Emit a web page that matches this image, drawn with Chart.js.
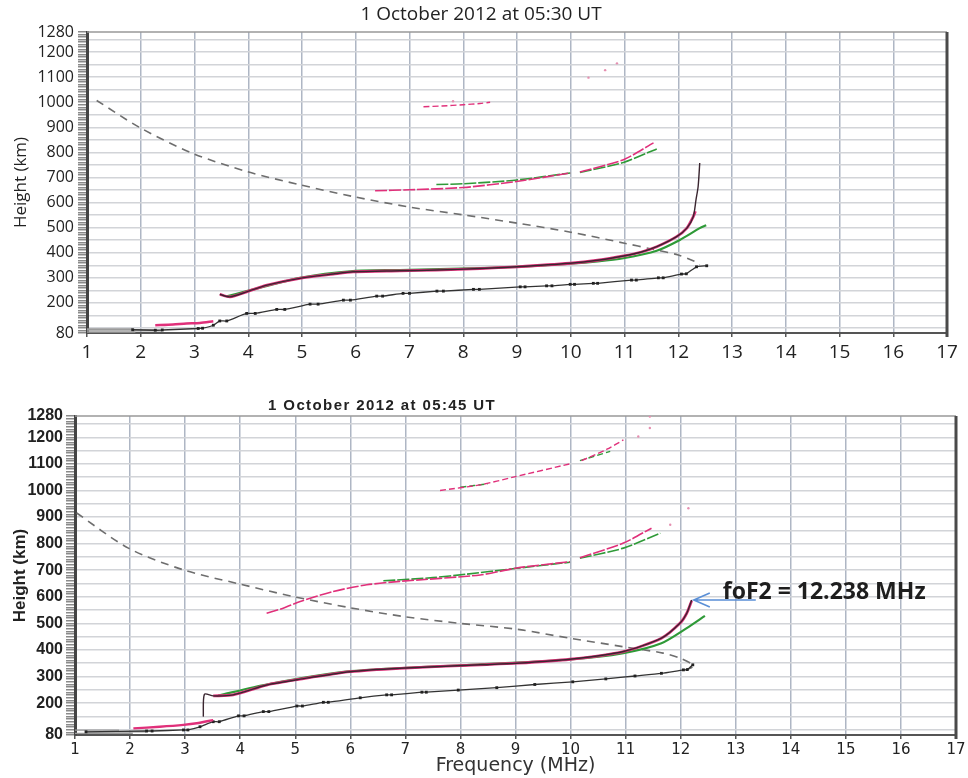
<!DOCTYPE html>
<html>
<head>
<meta charset="utf-8">
<script src="https://cdn.jsdelivr.net/npm/chart.js@4.4.1/dist/chart.umd.min.js"></script>
<style>
  html, body { margin: 0; padding: 0; background: #fff; }
  #page { position: relative; width: 968px; height: 778px; overflow: hidden; }
  canvas { position: absolute; left: 0; }
  #top-chart { top: 0; }
  #bot-chart { top: 380px; }
  .title { position: absolute; white-space: nowrap; color: #222; }
  #top-title { top: 0; left: 0; width: 962px; text-align: center; line-height: 24px; font: 19px "Open Sans", sans-serif; }
  #bot-title { top: 396px; left: 268px; line-height: 18px; font: bold 15px "Liberation Sans", Arial, sans-serif; letter-spacing: 1.4px; }
</style>
</head>
<body>
<div id="page">
  <canvas id="top-chart" width="968" height="372"></canvas>
  <canvas id="bot-chart" width="968" height="398"></canvas>
  <div class="title" id="top-title">1 October 2012 at 05:30 UT</div>
  <div class="title" id="bot-title">1 October 2012 at 05:45 UT</div>
</div>
<script>
// axis labels
const X_TICKS = [1, 2, 3, 4, 5, 6, 7, 8, 9, 10, 11, 12, 13, 14, 15, 16, 17];
const Y_LABELS = [80, 200, 300, 400, 500, 600, 700, 800, 900, 1000, 1100, 1200, 1280];

// 05:30 UT  [frequency MHz, virtual height km]; [x, null] = gap
const top_Fblack = [[3.47,234],[3.66,224],[3.97,244],[4.35,271],[4.96,298],[5.58,315],[5.95,324],[6.82,328],[7.5,331],[8.31,337],[9.0,344],[9.99,358],[10.5,370],[10.98,387],[11.3,402],[11.6,424],[11.97,464],[12.16,498],[12.28,544],[12.33,611],[12.37,664],[12.4,758]];
const top_O = [[3.47,234],[3.66,224],[3.97,244],[4.35,271],[4.96,298],[5.58,315],[5.95,324],[6.82,328],[7.5,331],[8.31,337],[9.0,344],[9.99,358],[10.5,370],[10.98,387],[11.3,402],[11.6,424],[11.97,464],[12.16,498],[12.28,544],[12.32,565]];
const top_X = [[3.6,226],[3.97,247],[4.96,300],[5.95,327],[6.82,331],[8.31,339],[9.0,344],[9.99,356],[10.5,365],[10.98,378],[11.6,408],[12.03,451],[12.4,498],[12.52,510]];
const top_O2 = [[6.36,647],[7.0,651],[8.0,660],[8.99,684],[9.99,718],[10.08,null],[10.17,722],[10.98,771],[11.54,838]];
const top_X2 = [[7.5,672],[8.0,675],[9.0,690],[9.99,718],[10.08,null],[10.17,720],[10.98,760],[11.6,814]];
const top_O3 = [[7.26,982],[7.6,985],[8.0,990],[8.31,995],[8.5,1000]];
const top_dots = [[7.81,1004],[10.33,1098],[10.64,1128],[10.86,1155]];
const top_E = [[2.27,111],[2.6,114],[2.85,118],[3.1,120],[3.35,127]];
const top_prof = [[1.85,93],[2.27,91],[2.4,92],[3.07,98],[3.15,99],[3.35,111],[3.47,128],[3.6,128],[3.97,158],[4.13,158],[4.53,174],[4.68,174],[5.15,195],[5.3,195],[5.77,211],[5.9,211],[6.39,227],[6.5,227],[6.88,238],[7.0,238],[7.51,247],[7.63,247],[8.19,254],[8.3,254],[9.06,264],[9.15,264],[9.55,268],[9.65,268],[9.99,274],[10.07,274],[10.42,278],[10.5,278],[11.13,291],[11.22,291],[11.63,300],[11.72,300],[12.06,315],[12.15,316],[12.34,344],[12.53,348]];
const top_dash = [[1.18,1007],[1.99,898],[2.98,795],[3.97,724],[4.96,671],[5.95,624],[7.0,582],[8.0,551],[9.0,518],[10.0,482],[11.0,438],[11.5,415],[12.0,391],[12.3,366],[12.4,352]];
const top_noise = [[1,83],[1.9,83],[1.9,null],[1,88],[2.4,88],[2.4,null],[1,93],[2.3,93],[2.3,null],[1,97],[1.85,97]];

// 05:45 UT
const bot_Fblack = [[3.33,149],[3.35,233],[3.51,227],[3.87,231],[4.48,268],[5.09,290],[6.0,318],[6.9,331],[8.36,344],[9.02,350],[9.99,365],[10.96,394],[11.65,444],[11.99,501],[12.11,538],[12.2,588]];
const bot_O = [[3.51,227],[3.87,231],[4.48,268],[5.09,290],[6.0,318],[6.9,331],[8.36,344],[9.02,350],[9.99,365],[10.96,394],[11.65,444],[11.99,501],[12.11,538],[12.2,585]];
const bot_X = [[3.6,228],[4.48,270],[6.0,320],[8.36,346],[9.99,364],[10.96,388],[11.65,425],[12.11,482],[12.44,528]];
const bot_O2 = [[4.48,538],[4.78,557],[5.09,582],[5.69,620],[6.3,645],[6.9,658],[8.36,682],[9.02,708],[9.99,732],[10.08,null],[10.17,747],[10.96,802],[11.47,858]];
const bot_X2 = [[6.6,660],[7.5,672],[8.11,685],[9.02,707],[9.99,730],[10.08,null],[10.17,745],[10.96,783],[11.63,839]];
const bot_O3 = [[7.63,1000],[8.36,1021],[8.96,1050],[9.99,1100],[10.08,null],[10.2,1112],[10.66,1155],[10.96,1190]];
const bot_X3 = [[8.0,1012],[8.5,1025],[8.6,null],[10.17,1112],[10.72,1147]];
const bot_dots = [[11.23,1203],[11.44,1235],[11.44,1278],[11.81,871],[12.14,933]];
const bot_E = [[2.06,105],[2.54,111],[2.97,118],[3.21,124],[3.51,136]];
const bot_prof = [[1.2,92],[2.3,95],[2.4,95],[2.97,99],[3.05,99],[3.27,111],[3.51,130],[3.62,130],[3.97,152],[4.07,152],[4.42,168],[4.52,168],[5.03,189],[5.13,189],[5.51,203],[5.6,203],[6.18,220],[6.66,231],[6.75,231],[7.3,241],[7.38,241],[7.96,249],[8.66,258],[9.35,270],[10.04,280],[10.64,291],[11.17,302],[11.65,312],[12.05,325],[12.12,326],[12.22,344]];
const bot_dash = [[1.03,915],[1.97,783],[2.97,701],[3.97,649],[4.96,601],[5.99,559],[6.99,525],[7.99,500],[9.02,478],[9.99,444],[10.96,412],[11.68,388],[11.99,369],[12.23,341],[12.11,325]];
const bot_noise = [[1,86],[2.05,86],[2.05,null],[1.2,92],[2.3,92],[2.3,null],[1,98],[1.8,98]];

const FOF2_MHZ = 12.238;
const FOF2_KM = 588;
const FOF2_TEXT = "foF2 = 12.238 MHz";

const MAGENTA = "#e0307a";
const GREEN = "#2f9a38";
const DARK = "#3a2630";

function xy(arr) {
  return arr.map(p => ({ x: p[0], y: p[1] }));
}

function line(arr, color, width, extra) {
  return Object.assign({
    data: xy(arr),
    showLine: true,
    borderColor: color,
    backgroundColor: color,
    borderWidth: width,
    pointRadius: 0,
    tension: 0.25,
    spanGaps: false,
  }, extra || {});
}

function dots(arr, color) {
  return { data: xy(arr), showLine: false, pointRadius: 1.2, borderWidth: 0, backgroundColor: color };
}

function buildDatasets(s) {
  return [
    line(s.Fblack, DARK, 1.4),
    line(s.O, MAGENTA, 2.8),
    line(s.X, GREEN, 2.2),
    line(s.O2, MAGENTA, 1.6, { borderDash: [12, 2] }),
    line(s.X2, GREEN, 1.6, { borderDash: [12, 2] }),
    line(s.O3, MAGENTA, 1.4, { borderDash: [6, 3] }),
    line(s.X3 || [], GREEN, 1.4, { borderDash: [6, 3] }),
    dots(s.dots, "#e58fb0"),
    line(s.E, MAGENTA, 2.4),
    line(s.prof, "#333", 1.3, { pointRadius: 2, pointStyle: "rect", pointBackgroundColor: "#222", pointBorderWidth: 0, tension: 0.2 }),
    line(s.dash, "#6e6e6e", 1.6, { borderDash: [8, 6], tension: 0.3 }),
    line(s.noise, "#9a9a9a", 1.2, { tension: 0 }),
  ];
}

const framePlugin = {
  id: "frame",
  beforeDatasetsDraw(chart) {
    const { ctx, chartArea: a } = chart;
    ctx.save();
    ctx.strokeStyle = "#999";
    ctx.lineWidth = 1.5;
    ctx.beginPath();
    ctx.moveTo(a.left, a.top);
    ctx.lineTo(a.right, a.top);
    ctx.stroke();
    ctx.strokeStyle = "#4a4a4a";
    ctx.lineWidth = 3;
    ctx.beginPath();
    ctx.moveTo(a.right, a.top);
    ctx.lineTo(a.right, a.bottom + 4);
    ctx.stroke();
    ctx.restore();
  },
};

const fof2Plugin = {
  id: "fof2",
  afterDatasetsDraw(chart) {
    const { ctx } = chart;
    const px = chart.scales.x.getPixelForValue(FOF2_MHZ);
    const py = chart.scales.y.getPixelForValue(FOF2_KM);
    ctx.save();
    ctx.strokeStyle = "#5a8fd6";
    ctx.lineWidth = 1.6;
    ctx.beginPath();
    ctx.moveTo(px + 62, py);
    ctx.lineTo(px, py);
    ctx.moveTo(px + 16, py - 7);
    ctx.lineTo(px, py);
    ctx.lineTo(px + 16, py + 7);
    ctx.stroke();
    ctx.fillStyle = "#1e1e1e";
    ctx.font = 'bold 23px "Open Sans", sans-serif';
    ctx.textBaseline = "alphabetic";
    ctx.fillText(FOF2_TEXT, px + 29, py - 1);
    ctx.restore();
  },
};

function makeChart(id, series, o) {
  const yTicks = [];
  for (let v = 80; v <= 1280; v += 10) yTicks.push(v);
  return new Chart(document.getElementById(id), {
    type: "scatter",
    data: { datasets: buildDatasets(series) },
    plugins: o.plugins,
    options: {
      responsive: false,
      animation: false,
      layout: { padding: { top: o.top, right: o.right, left: 0, bottom: 0 } },
      plugins: { legend: { display: false }, tooltip: { enabled: false } },
      scales: {
        x: {
          type: "linear",
          min: 1,
          max: 17,
          afterBuildTicks: s => { s.ticks = X_TICKS.map(v => ({ value: v })); },
          afterFit: s => { s.height = o.xHeight; },
          ticks: { autoSkip: false, maxRotation: 0, padding: o.xPad, color: "#222", font: o.xFont, callback: v => String(v) },
          grid: { color: "#aeb6c4", lineWidth: 1.5, tickColor: "#555", tickLength: 4 },
          border: { color: "#555", width: 2 },
          title: o.xTitle
            ? { display: true, text: "Frequency (MHz)", color: "#333", font: o.xTitleFont, padding: { top: 0, bottom: o.xTitlePad } }
            : { display: false },
        },
        y: {
          type: "linear",
          min: 80,
          max: 1280,
          afterBuildTicks: s => { s.ticks = yTicks.map(v => ({ value: v })); },
          afterFit: s => { s.width = o.yWidth; },
          ticks: {
            autoSkip: false,
            padding: o.yPad,
            color: "#222",
            font: o.yFont,
            callback: v => (Y_LABELS.includes(v) ? String(v) : ""),
          },
          grid: {
            color: c => (c.tick && c.tick.value % 50 === 0 ? "#d2d4d8" : "rgba(0,0,0,0)"),
            lineWidth: 1.5,
            tickColor: "#8a8a8a",
            tickLength: 9,
          },
          border: { color: "#444", width: 3 },
          title: { display: true, text: "Height (km)", color: "#222", font: o.yTitleFont, padding: { top: o.yTitlePad, bottom: 0 } },
        },
      },
    },
  });
}

makeChart("top-chart", {
  Fblack: top_Fblack, O: top_O, X: top_X, O2: top_O2, X2: top_X2, O3: top_O3,
  dots: top_dots, E: top_E, prof: top_prof, dash: top_dash, noise: top_noise,
}, {
  top: 32, right: 21, xHeight: 39, yWidth: 87,
  xPad: 4, yPad: 4,
  xFont: { family: "'Open Sans', sans-serif", size: 19 },
  yFont: { family: "'Open Sans', sans-serif", size: 16 },
  yTitleFont: { family: "'Open Sans', sans-serif", size: 17 },
  yTitlePad: 11,
  xTitle: false,
  plugins: [framePlugin],
});

makeChart("bot-chart", {
  Fblack: bot_Fblack, O: bot_O, X: bot_X, O2: bot_O2, X2: bot_X2, O3: bot_O3, X3: bot_X3,
  dots: bot_dots, E: bot_E, prof: bot_prof, dash: bot_dash, noise: bot_noise,
}, {
  top: 36, right: 12, xHeight: 43, yWidth: 75,
  xPad: 2, yPad: 3,
  xFont: { family: "'DejaVu Sans', sans-serif", size: 15 },
  yFont: { family: "'Liberation Sans Narrow', 'Liberation Sans', sans-serif", size: 16, weight: "bold" },
  yTitleFont: { family: "'Liberation Sans Narrow', 'Liberation Sans', sans-serif", size: 17, weight: "bold" },
  yTitlePad: 10,
  xTitle: true,
  xTitleFont: { family: "'DejaVu Sans', sans-serif", size: 19 },
  xTitlePad: 1,
  plugins: [framePlugin, fof2Plugin],
});
</script>
</body>
</html>
